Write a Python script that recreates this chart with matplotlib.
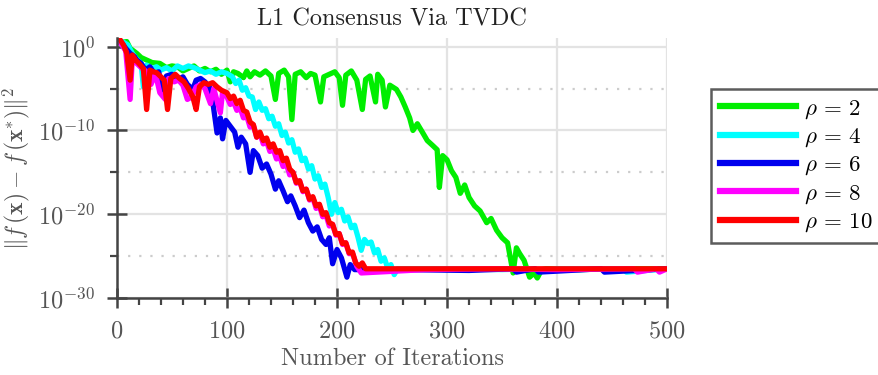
import numpy as np
import matplotlib
matplotlib.use("Agg")
import matplotlib.pyplot as plt
from matplotlib.ticker import MultipleLocator, NullFormatter

plt.rcParams["font.family"] = ["cmr10", "DejaVu Serif"]
plt.rcParams["mathtext.fontset"] = "cm"
plt.rcParams["axes.formatter.use_mathtext"] = True

# Данные: итерации и показатель степени (log10 ошибки)
it_2 = [0, 3, 9, 12, 18, 22, 27, 32, 39, 45, 50, 55, 60, 65, 70, 75, 80, 85, 90, 95, 100, 103, 106,
        110, 115, 118, 121, 125, 130, 135, 140, 144, 147, 152, 156, 159, 162, 167, 172, 176, 180,
        185, 188, 193, 198, 202, 205, 208, 213, 218, 223, 226, 230, 235, 237, 241, 244, 248, 254,
        258, 262, 266, 269, 273, 278, 282, 287, 291, 293, 296, 300, 304, 308, 312, 316, 320, 325,
        330, 336, 340, 345, 350, 355, 360, 363, 366, 370, 375, 379, 382, 386, 390, 420, 450, 480, 500]
exp_2 = [0.6, 0.5, 0.6, -0.2, -0.8, -1.3, -1.6, -1.9, -2.0, -2.5, -2.3, -2.4, -2.9, -2.6, -2.3, -2.9,
         -2.6, -3.0, -2.7, -3.3, -2.8, -4.2, -3.0, -3.2, -3.7, -2.9, -3.6, -3.0, -3.4, -2.9, -3.5,
         -6.3, -3.2, -2.8, -3.6, -8.7, -3.3, -3.0, -3.7, -3.2, -3.4, -6.6, -3.6, -3.3, -3.0, -3.7,
         -7.0, -3.4, -2.9, -4.0, -7.5, -3.9, -3.5, -6.6, -3.3, -4.0, -7.2, -4.6, -5.1, -6.0, -7.2,
         -8.5, -10.0, -9.2, -10.3, -11.2, -11.8, -12.3, -16.8, -13.0, -13.5, -14.8, -15.6, -17.5,
         -16.5, -18.0, -19.0, -19.6, -21.0, -20.5, -21.9, -22.8, -23.4, -27.0, -24.0, -24.7, -25.5,
         -27.5, -27.0, -27.6, -26.6, -26.5, -26.6, -26.5, -26.5, -26.5]

it_4 = [0, 5, 10, 14, 18, 22, 24, 27, 32, 36, 40, 45, 50, 55, 60, 65, 70, 75, 80, 85, 90, 95, 100,
        105, 108, 111, 114, 117, 120, 123, 126, 129, 132, 135, 138, 141, 144, 147, 150, 153, 156,
        159, 162, 165, 168, 171, 174, 177, 180, 183, 186, 189, 192, 195, 198, 201, 204, 207, 210,
        213, 216, 219, 222, 225, 228, 231, 234, 237, 240, 243, 246, 249, 252, 255, 300, 350, 380,
        383, 400, 460, 463, 500]
exp_4 = [0.8, 0.6, 0.2, -0.8, -1.5, -2.0, -4.8, -2.2, -2.6, -2.4, -2.8, -2.5, -2.9, -2.3, -2.6, -2.3,
         -2.5, -2.8, -3.1, -2.9, -3.3, -3.0, -3.2,
         -3.6, -4.4, -4.0, -5.2, -4.9, -5.9, -6.0, -7.5, -6.6, -7.6, -7.4, -8.6, -8.3, -9.5, -9.2,
         -10.6, -10.2, -11.5, -11.1, -12.6, -12.2, -13.6, -13.3, -14.6, -14.2, -15.8, -15.4, -16.8,
         -16.4, -18.0, -20.0, -18.6, -19.8, -19.4, -20.8, -20.3, -21.6, -21.3, -22.7, -24.3, -23.0,
         -23.5, -23.3, -24.6, -24.2, -25.6, -25.2, -26.4, -26.0, -27.2, -26.5, -26.5, -26.6, -26.5,
         -26.9, -26.5, -26.5, -26.9, -26.5]

it_6 = [0, 4, 8, 12, 16, 18, 22, 26, 30, 34, 38, 42, 45, 50, 55, 60, 64, 69, 72, 76, 80, 84, 87,
        91, 94, 96, 99, 103, 107, 110, 113, 117, 121, 124, 128, 132, 136, 140, 144, 147, 151, 155,
        158, 162, 166, 170, 174, 178, 182, 186, 190, 193, 196, 200, 204, 209, 212, 216, 260, 320,
        360, 363, 380, 383, 440, 443, 500]
exp_6 = [0.8, 0.5, -0.2, -0.8, -1.2, -1.6, -2.0, -2.8, -2.4, -3.2, -3.0, -5.7, -3.5, -3.3, -4.0,
         -3.6, -4.5, -5.1, -4.0, -3.8, -4.2, -4.8, -6.5, -10.3, -8.5, -11.0, -8.8, -9.5, -10.2,
         -12.0, -10.8, -11.6, -15.0, -12.4, -13.0, -14.5, -14.0, -15.2, -17.0, -16.0, -17.2, -18.5,
         -17.8, -19.0, -20.4, -19.5, -21.0, -22.0, -21.5, -23.0, -23.6, -22.8, -25.9, -24.2, -25.2,
         -27.5, -26.0, -26.6, -26.6, -26.7, -26.5, -26.9, -26.5, -26.9, -26.5, -26.9, -26.5]

it_8 = [0, 4, 8, 12, 14, 18, 22, 27, 31, 35, 39, 44, 47, 52, 56, 60, 64, 68, 72, 76, 80, 85, 88,
        94, 96, 100, 103, 106, 109, 112, 115, 118, 121, 124, 127, 130, 133, 136, 139, 142, 145,
        148, 151, 154, 157, 160, 163, 166, 169, 172, 175, 178, 181, 184, 187, 190, 193, 196, 199,
        202, 205, 208, 211, 214, 218, 222, 280, 340, 400, 470, 473, 490, 493, 500]
exp_8 = [0.8, 0.3, -0.5, -6.3, -1.5, -2.0, -2.5, -3.0, -4.5, -3.2, -5.5, -6.3, -3.8, -4.2, -4.0,
         -4.6, -6.3, -6.0, -4.8, -4.5, -5.0, -6.8, -5.0, -7.9, -5.4, -6.0,
         -6.9, -6.6, -7.6, -7.3, -8.5, -8.3, -9.6, -9.4, -10.8, -10.4, -11.6, -11.3, -12.5, -12.2,
         -13.4, -13.1, -14.3, -14.0, -15.3, -15.0, -16.3, -16.0, -17.3, -17.0, -18.3, -18.0,
         -19.3, -19.0, -20.3, -20.1, -21.4, -21.2, -22.5, -22.3, -23.6, -23.4, -24.7, -24.6,
         -26.2, -27.0, -26.6, -26.5, -26.6, -26.5, -26.9, -26.5, -26.9, -26.5]

it_10 = [0, 3, 6, 9, 12, 14, 17, 20, 24, 27, 30, 33, 36, 40, 43, 46, 49, 53, 57, 61, 65, 69, 72,
         75, 79, 83, 87, 91, 95, 100, 103, 106, 109, 112, 115, 118, 121, 124, 127, 130, 133, 136,
         139, 142, 145, 148, 151, 154, 157, 160, 163, 166, 169, 172, 175, 178, 181, 184, 187, 190,
         193, 196, 199, 202, 205, 208, 211, 214, 217, 220, 223, 226, 260, 300, 350, 400, 450, 500]
exp_10 = [1.0, 0.8, 0.2, -0.8, -4.0, -1.0, -1.6, -2.0, -2.6, -7.5, -2.8, -3.0, -3.1, -3.6, -4.0,
          -7.5, -3.8, -3.3, -3.8, -4.2, -5.0, -6.0, -7.5, -4.8, -4.3, -4.5, -4.3, -4.8, -5.2,
          -5.5, -6.2, -5.9, -6.8, -6.4, -7.6, -7.8, -9.0, -9.3, -10.8, -10.2, -11.2, -10.9, -12.0,
          -11.6, -12.6, -12.4, -13.6, -13.3, -14.6, -15.0, -16.2, -16.0, -17.2, -17.0, -18.2,
          -17.9, -19.0, -18.8, -20.0, -19.8, -21.0, -21.2, -22.4, -22.3, -23.5, -23.4, -24.6,
          -24.5, -25.8, -26.2, -25.8, -26.5, -26.5, -26.5, -26.5, -26.5, -26.5, -26.5]

series = [(it_2, exp_2, "#00ee00", r"$\rho$ = 2"),
          (it_4, exp_4, "#00ffff", r"$\rho$ = 4"),
          (it_6, exp_6, "#0000ee", r"$\rho$ = 6"),
          (it_8, exp_8, "#ff00ff", r"$\rho$ = 8"),
          (it_10, exp_10, "#ff0000", r"$\rho$ = 10")]

fig = plt.figure(figsize=(8.79, 3.75), dpi=100)
ax = fig.add_axes([0.133, 0.205, 0.626, 0.693])

for it, ex, col, lab in series:
    ax.plot(it, 10.0 ** np.array(ex), color=col, lw=3.8, label=lab, solid_joinstyle="round")

ax.set_yscale("log")
ax.set_xlim(0, 500)
ax.set_ylim(1e-30, 1e1)
ax.set_xticks([0, 100, 200, 300, 400, 500])
ax.xaxis.set_minor_locator(MultipleLocator(20))
ax.set_yticks([1e-30, 1e-20, 1e-10, 1e0])
ax.set_yticks([1e-25, 1e-15, 1e-5], minor=True)
ax.yaxis.set_minor_formatter(NullFormatter())

# Сетка
ax.grid(True, which="major", color="#e3e3e3", lw=1.6)
ax.grid(True, which="minor", axis="y", color="#cccccc", lw=1.6, linestyle=(0, (1, 4)))
ax.set_axisbelow(True)

for s in ["top", "right"]:
    ax.spines[s].set_visible(False)
for s in ["left", "bottom"]:
    ax.spines[s].set_color("#444444")
    ax.spines[s].set_linewidth(1.8)
ax.tick_params(which="major", direction="inout", length=14, width=1.8, color="#444444",
               labelcolor="#555555", labelsize=17.5, pad=9)
ax.tick_params(which="minor", direction="out", length=5, width=1.6, color="#444444")

ax.set_title("L1 Consensus Via TVDC", fontsize=17.5, color="#222222", pad=9)
ax.set_xlabel("Number of Iterations", fontsize=17.5, color="#555555", labelpad=4)
ax.set_ylabel(r"$\|f\,(\mathbf{x}) - f\,(\mathbf{x}^{*})\|^2$", fontsize=17, color="#555555",
              labelpad=4)

leg = fig.legend(loc="upper left", bbox_to_anchor=(0.809, 0.763), bbox_transform=fig.transFigure,
                 borderaxespad=0, fontsize=16.5, handlelength=3.3, handletextpad=0.35,
                 borderpad=0.4, labelspacing=0.25, fancybox=False, frameon=True,
                 edgecolor="#333333")
leg.get_frame().set_linewidth(1.8)
for line in leg.get_lines():
    line.set_linewidth(4.5)

fig.savefig("out.png", dpi=100)
